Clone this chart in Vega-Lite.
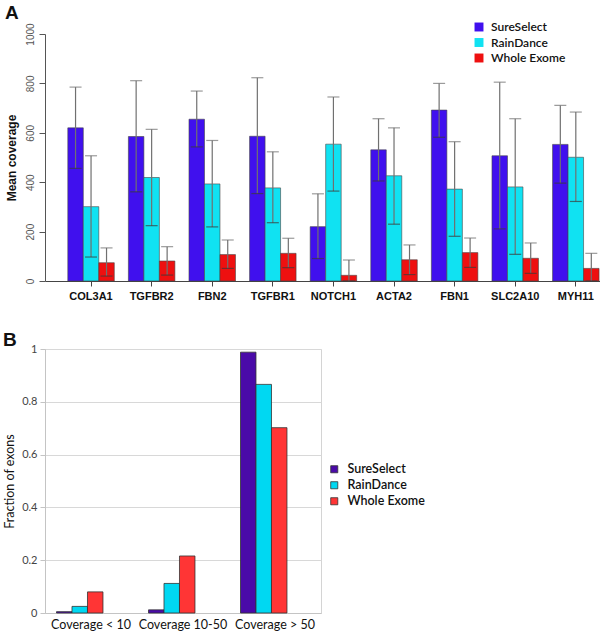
{
  "$schema": "https://vega.github.io/schema/vega-lite/v6.json",
  "padding": {"left": 2, "top": 4, "right": 0, "bottom": 0},
  "background": "white",
  "config": {"font": "Lato", "view": {"stroke": null}},
  "spacing": 29,
  "resolve": {"scale": {"color": "independent"}, "legend": {"color": "independent"}},
  "vconcat": [
    {
      "title": {"text": "A", "anchor": "start", "frame": "bounds", "fontSize": 19, "fontWeight": "bold", "font": "Liberation Sans", "color": "#111", "offset": -2},
      "width": 555,
      "height": 247,
      "data": {"values": [
        {"gene": "COL3A1", "method": "SureSelect", "mean": 620, "low": 456, "high": 785},
        {"gene": "COL3A1", "method": "RainDance", "mean": 301, "low": 97, "high": 507},
        {"gene": "COL3A1", "method": "Whole Exome", "mean": 74, "low": 20, "high": 134},
        {"gene": "TGFBR2", "method": "SureSelect", "mean": 585, "low": 361, "high": 811},
        {"gene": "TGFBR2", "method": "RainDance", "mean": 419, "low": 224, "high": 614},
        {"gene": "TGFBR2", "method": "Whole Exome", "mean": 81, "low": 24, "high": 139},
        {"gene": "FBN2", "method": "SureSelect", "mean": 655, "low": 543, "high": 769},
        {"gene": "FBN2", "method": "RainDance", "mean": 393, "low": 219, "high": 569},
        {"gene": "FBN2", "method": "Whole Exome", "mean": 107, "low": 51, "high": 166},
        {"gene": "TGFBR1", "method": "SureSelect", "mean": 586, "low": 354, "high": 823},
        {"gene": "TGFBR1", "method": "RainDance", "mean": 377, "low": 236, "high": 523},
        {"gene": "TGFBR1", "method": "Whole Exome", "mean": 112, "low": 54, "high": 173},
        {"gene": "NOTCH1", "method": "SureSelect", "mean": 220, "low": 91, "high": 353},
        {"gene": "NOTCH1", "method": "RainDance", "mean": 554, "low": 364, "high": 745},
        {"gene": "NOTCH1", "method": "Whole Exome", "mean": 23, "low": 0, "high": 85},
        {"gene": "ACTA2", "method": "SureSelect", "mean": 531, "low": 405, "high": 657},
        {"gene": "ACTA2", "method": "RainDance", "mean": 426, "low": 230, "high": 620},
        {"gene": "ACTA2", "method": "Whole Exome", "mean": 86, "low": 26, "high": 146},
        {"gene": "FBN1", "method": "SureSelect", "mean": 692, "low": 582, "high": 800},
        {"gene": "FBN1", "method": "RainDance", "mean": 372, "low": 181, "high": 564},
        {"gene": "FBN1", "method": "Whole Exome", "mean": 115, "low": 55, "high": 174},
        {"gene": "SLC2A10", "method": "SureSelect", "mean": 507, "low": 211, "high": 805},
        {"gene": "SLC2A10", "method": "RainDance", "mean": 381, "low": 108, "high": 657},
        {"gene": "SLC2A10", "method": "Whole Exome", "mean": 92, "low": 31, "high": 154},
        {"gene": "MYH11", "method": "SureSelect", "mean": 553, "low": 396, "high": 711},
        {"gene": "MYH11", "method": "RainDance", "mean": 501, "low": 322, "high": 684},
        {"gene": "MYH11", "method": "Whole Exome", "mean": 51, "low": 0, "high": 112}
      ]},
      "encoding": {
        "x": {
          "field": "gene", "type": "nominal",
          "sort": ["COL3A1", "TGFBR2", "FBN2", "TGFBR1", "NOTCH1", "ACTA2", "FBN1", "SLC2A10", "MYH11"],
          "scale": {"paddingInner": 0.233, "paddingOuter": 0.196, "align": 0.96},
          "axis": {"title": null, "labelAngle": 0, "labelFont": "Liberation Sans", "labelFontWeight": "bold", "labelFontSize": 11, "labelColor": "#111", "labelPadding": 4, "domainColor": "#444", "tickColor": "#444", "tickSize": 5}
        },
        "xOffset": {"field": "method", "type": "nominal", "sort": ["SureSelect", "RainDance", "Whole Exome"], "scale": {"paddingInner": 0, "paddingOuter": 0}}
      },
      "layer": [
        {
          "mark": {"type": "bar", "stroke": "#444", "strokeWidth": 0.6},
          "encoding": {
            "y": {
              "field": "mean", "type": "quantitative",
              "scale": {"domain": [0, 1000], "nice": false},
              "axis": {"title": "Mean coverage", "titleFont": "Liberation Sans", "titleFontWeight": "bold", "titleFontSize": 12, "titleColor": "#111", "titlePadding": 5, "minExtent": 22, "maxExtent": 22, "values": [0, 200, 400, 600, 800, 1000], "format": "d", "grid": false, "labelAngle": -90, "labelAlign": "center", "labelBaseline": "bottom", "labelFont": "Liberation Sans", "labelFontSize": 10, "labelColor": "#555", "labelPadding": 4, "domainColor": "#555", "tickColor": "#555", "tickSize": 6}
            },
            "color": {
              "field": "method", "type": "nominal",
              "sort": ["SureSelect", "RainDance", "Whole Exome"],
              "scale": {"domain": ["SureSelect", "RainDance", "Whole Exome"], "range": ["#4010ee", "#10e2f2", "#ee1010"]},
              "legend": {"title": null, "orient": "none", "legendX": 428, "legendY": -13, "symbolType": "square", "symbolSize": 80, "symbolStrokeWidth": 0, "labelFont": "Lato", "labelFontSize": 12, "labelFontWeight": 600, "labelColor": "#111", "labelOffset": 6, "rowPadding": 3.5}
            }
          }
        },
        {
          "mark": {"type": "rule", "color": "#707070", "strokeWidth": 1.2},
          "encoding": {"y": {"field": "low", "type": "quantitative"}, "y2": {"field": "high"}}
        },
        {
          "mark": {"type": "tick", "color": "#707070", "thickness": 1.2, "size": 12},
          "encoding": {"y": {"field": "high", "type": "quantitative"}}
        },
        {
          "mark": {"type": "tick", "color": "#3a3a3a", "thickness": 1.2, "size": 12},
          "encoding": {"y": {"field": "low", "type": "quantitative"}}
        }
      ]
    },
    {
      "title": {"text": "B", "anchor": "start", "frame": "bounds", "fontSize": 19, "fontWeight": "bold", "font": "Liberation Sans", "color": "#111", "offset": -7},
      "width": 276,
      "height": 264,
      "view": {"stroke": "#d4d4d4"},
      "data": {"values": [
        {"cat": "Coverage < 10", "method": "SureSelect", "fraction": 0.005},
        {"cat": "Coverage < 10", "method": "RainDance", "fraction": 0.025},
        {"cat": "Coverage < 10", "method": "Whole Exome", "fraction": 0.08},
        {"cat": "Coverage 10-50", "method": "SureSelect", "fraction": 0.012},
        {"cat": "Coverage 10-50", "method": "RainDance", "fraction": 0.112},
        {"cat": "Coverage 10-50", "method": "Whole Exome", "fraction": 0.216},
        {"cat": "Coverage > 50", "method": "SureSelect", "fraction": 0.988},
        {"cat": "Coverage > 50", "method": "RainDance", "fraction": 0.866},
        {"cat": "Coverage > 50", "method": "Whole Exome", "fraction": 0.702}
      ]},
      "mark": {"type": "bar", "stroke": "#333", "strokeWidth": 0.8},
      "encoding": {
        "x": {
          "field": "cat", "type": "nominal",
          "sort": ["Coverage < 10", "Coverage 10-50", "Coverage > 50"],
          "scale": {"paddingInner": 0.25, "paddingOuter": 0.125},
          "axis": {"title": null, "labelAngle": 0, "labelFont": "Lato", "labelFontSize": 12.5, "labelColor": "#111", "labelPadding": 5, "labelOverlap": false, "domainColor": "#c4c4c4", "ticks": false}
        },
        "xOffset": {"field": "method", "type": "nominal", "sort": ["SureSelect", "RainDance", "Whole Exome"], "scale": {"paddingInner": 0, "paddingOuter": 0}},
        "y": {
          "field": "fraction", "type": "quantitative",
          "scale": {"domain": [0, 1], "nice": false},
          "axis": {"title": "Fraction of exons", "titleFont": "Lato", "titleFontWeight": "normal", "titleFontSize": 12.5, "titleColor": "#111", "titlePadding": 5, "minExtent": 24, "maxExtent": 24, "values": [0, 0.2, 0.4, 0.6, 0.8, 1], "format": "~g", "gridColor": "#d8d8d8", "domainColor": "#c4c4c4", "tickColor": "#c4c4c4", "tickSize": 5, "labelFont": "Lato", "labelFontSize": 11, "labelColor": "#444", "labelPadding": 3}
        },
        "color": {
          "field": "method", "type": "nominal",
          "sort": ["SureSelect", "RainDance", "Whole Exome"],
          "scale": {"domain": ["SureSelect", "RainDance", "Whole Exome"], "range": ["#4a0aa8", "#00d8f2", "#ff3535"]},
          "legend": {"title": null, "orient": "none", "legendX": 283, "legendY": 114, "symbolType": "square", "symbolSize": 50, "symbolStrokeColor": "#333", "symbolStrokeWidth": 0.8, "labelFont": "Lato", "labelFontSize": 12.5, "labelFontWeight": 600, "labelColor": "#111", "labelOffset": 7, "rowPadding": 3}
        }
      }
    }
  ]
}
